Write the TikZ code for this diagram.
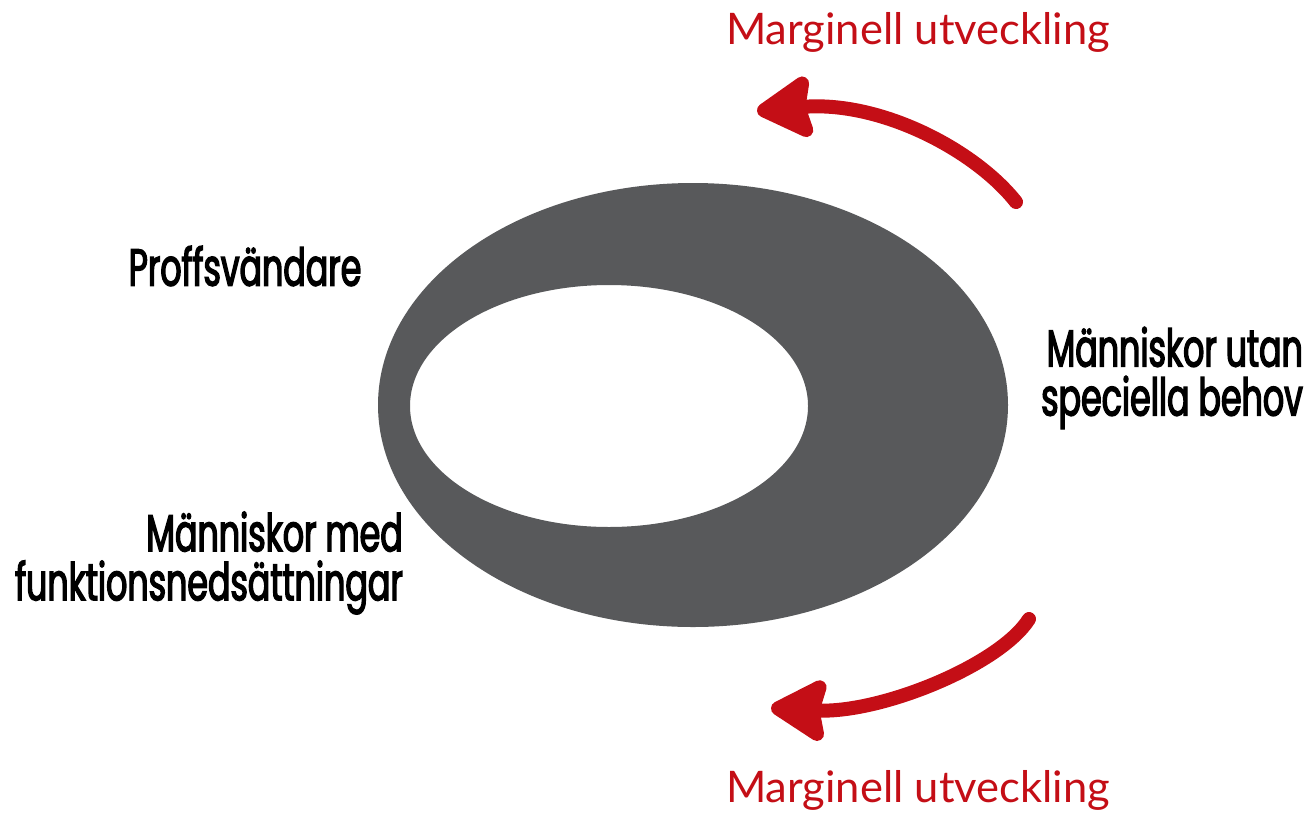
\documentclass[tikz,border=0pt]{standalone}
\usepackage{fontspec}
\usepackage{xcolor}
\usepackage{tikz}
\usetikzlibrary{arrows.meta,positioning,calc}
\newfontfamily\groupfont[FakeStretch=0.64,FakeBold=2.6]{Poppins}
\newfontfamily\marginfont{Lato}
\definecolor{ringgray}{RGB}{88,89,91}
\definecolor{marginred}{RGB}{196,14,22}
\tikzset{group/.style={
  % The shape:
  rectangle,
  inner sep=0pt,
  % Font:
  font=\groupfont\fontsize{52}{49}\selectfont,
  text=black,
  }
}
\tikzset{margin/.style={
  % The shape:
  rectangle,
  inner sep=0pt,
  % Font:
  font=\marginfont\fontsize{43.5}{44}\selectfont,
  text=marginred,
  }
}
\tikzset{drift/.style={
  % The line:
  line width=14pt,
  line cap=round,
  draw=marginred,
  % The tip:
  -{Stealth[length=64pt,width=72pt,inset=8pt,round]},
  }
}

\begin{document}
\begin{tikzpicture}[x=1pt,y=-1pt]
  \useasboundingbox (0,0) rectangle (1308,817);

  % The ring:
  \fill[ringgray,even odd rule]
    (693,405) ellipse [x radius=315,y radius=222]
    (609,406) ellipse [x radius=199,y radius=121];

  % Groups round the ring:
  \node (pro)    [group]                  at (245,266) {Proffsvändare};
  \node (with)   [group,align=right,anchor=east] at (403,563)
        {Människor med\\funktionsnedsättningar};
  \node (without)[group,align=right,anchor=west] at (1041,378)
        {Människor utan\\speciella behov};

  % Marginal development:
  \node (topnote) [margin] at (918,32)  {Marginell utveckling};
  \node (botnote) [margin] at (918,790) {Marginell utveckling};

  \coordinate (toptail) at (1016,202);
  \coordinate (tophead) at (757,111);
  \coordinate (bottail) at (1029,619);
  \coordinate (bothead) at (771,708);

  \draw[drift] (toptail) .. controls (975,150) and (880,100) .. (tophead);
  \draw[drift] (bottail) .. controls (1000,665) and (880,714) .. (bothead);
\end{tikzpicture}
\end{document}
